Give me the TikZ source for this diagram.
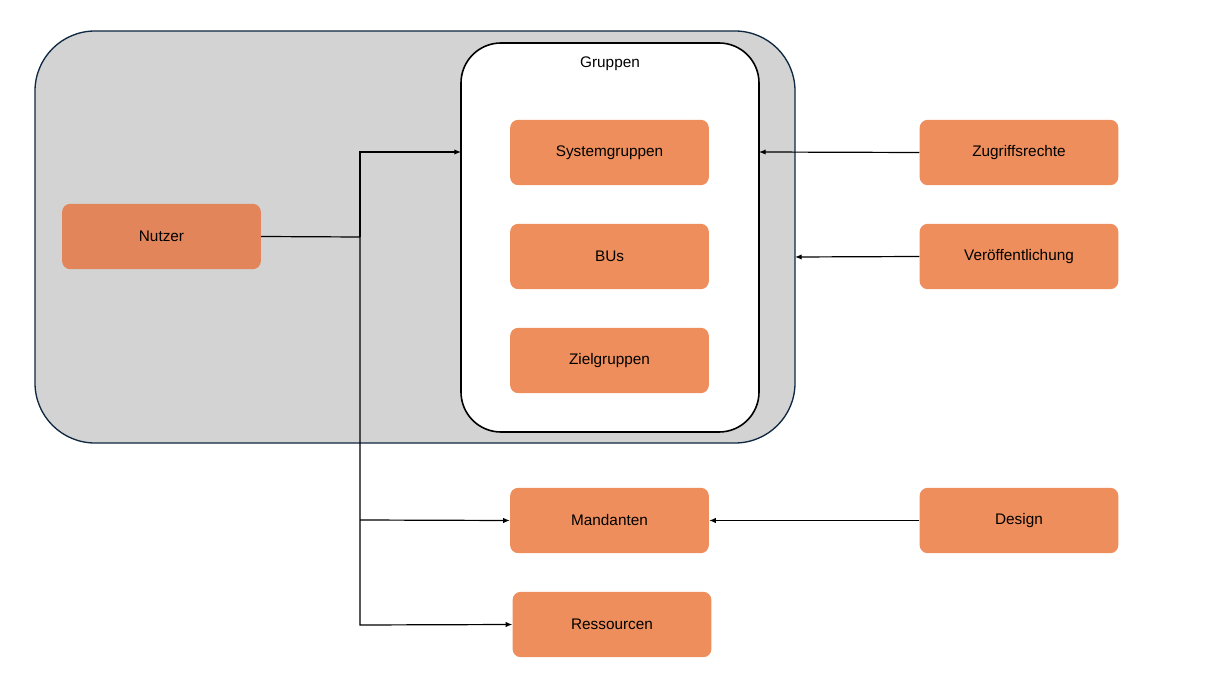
\documentclass[tikz,border=0pt]{standalone}
\usepackage{fontspec}
\setmainfont{Liberation Sans}
\usetikzlibrary{arrows.meta}
\definecolor{boxc}{HTML}{EE8E5C}
\definecolor{nutc}{HTML}{E3855A}
\definecolor{greyc}{HTML}{D3D3D3}
\definecolor{edgec}{HTML}{0E2841}
\begin{document}
\begin{tikzpicture}[x=0.75pt,y=-0.75pt,
  box/.style={fill=boxc,draw=none,rounded corners=6pt,minimum width=149pt,minimum height=49pt,font=\fontsize{11.5}{13}\selectfont,inner sep=0pt},
  arr/.style={-{Latex[length=5pt,width=4pt]},line width=0.9pt}]
\useasboundingbox (0,0) rectangle (1206,673);
\fill[white] (0,0) rectangle (1206,673);
\draw[fill=greyc,draw=edgec,line width=1pt,rounded corners=45pt] (35,31) rectangle (795,443);
\draw[fill=white,draw=black,line width=1.2pt,rounded corners=30pt] (461,43) rectangle (759,432);
\node[font=\fontsize{11.5}{13}\selectfont] (grl) at (610,64) {Gruppen};
\coordinate (gl) at (461,152);
\coordinate (gr) at (759,152);
\coordinate (outr) at (795,257);
\node[box] (sys) at (609.5,152.5) {Systemgruppen};
\node[box] (bus) at (609.5,256.5) {BUs};
\node[box] (ziel) at (609.5,360.5) {Zielgruppen};
\node[box,fill=nutc] (nut) at (161.5,236.5) {Nutzer};
\node[box] (zug) at (1019,152.5) {Zugriffsrechte};
\node[box] (ver) at (1019,256.5) {Veröffentlichung};
\node[box] (des) at (1019,520.5) {Design};
\node[box] (man) at (609.5,520.5) {Mandanten};
\node[box] (res) at (612,624.5) {Ressourcen};
\coordinate (j) at (360,237);
\draw[line width=0.9pt] (nut.east) -- (j);
\draw[arr] (j) -- (360,152) -- (gl);
\draw[arr] (j) -- (360,625) -- (res.west);
\draw[arr] (360,520) -- (man.west);
\draw[arr] (zug.west) -- (gr);
\draw[arr] (ver.west) -- (outr);
\draw[arr] (des.west) -- (man.east);
\end{tikzpicture}
\end{document}
